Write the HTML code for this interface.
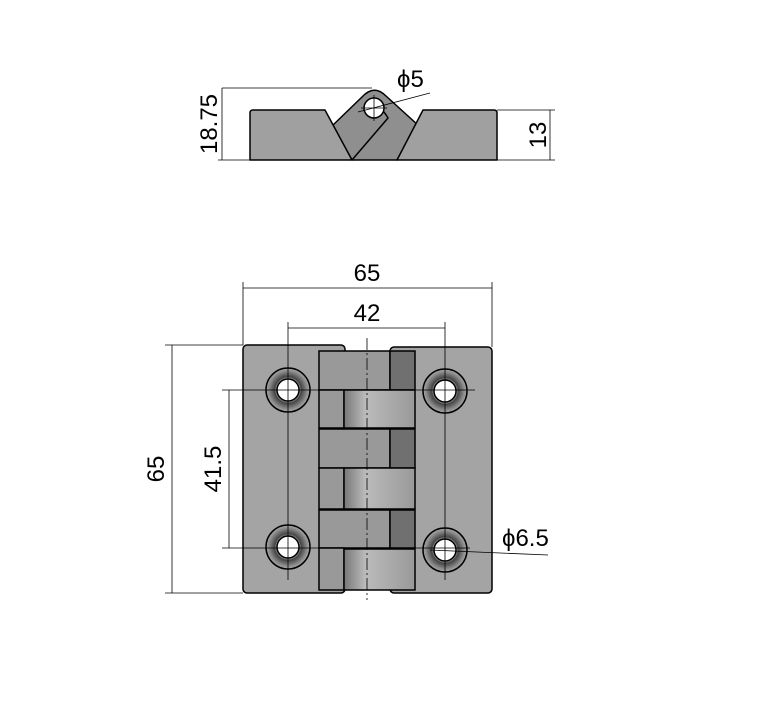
<!DOCTYPE html>
<html><head><style>body{margin:0;background:#fff}svg{display:block}</style></head><body>
<svg width="760" height="723" viewBox="0 0 760 723" xmlns="http://www.w3.org/2000/svg" font-family="Liberation Sans, sans-serif">
<defs>
<radialGradient id="cs" cx="0.5" cy="0.5" r="0.5"><stop offset="0.45" stop-color="#eee"/><stop offset="0.6" stop-color="#444"/><stop offset="0.85" stop-color="#888"/><stop offset="1" stop-color="#aaa"/></radialGradient>
<linearGradient id="pin" x1="0" x2="1"><stop offset="0" stop-color="#777"/><stop offset="0.3" stop-color="#bbb"/><stop offset="1" stop-color="#999"/></linearGradient>
</defs>
<!-- Top view -->
<g stroke="#000" stroke-width="1.5" stroke-linejoin="round">
<path d="M332 126 L362 97 Q374 84 386 96 L419 126 L397 160 L352 160 Z" fill="#8f8f8f"/>
<path d="M250 113 Q250 110 253 110 L325 110 L352 160 L250 160 Z" fill="#a0a0a0"/>
<path d="M423 110 L494 110 Q497 110 497 113 L497 160 L397 160 Z" fill="#a0a0a0"/>
<path d="M352 160 L388 118 Q378 100 366 112" fill="none"/>
<circle cx="374" cy="108" r="10" fill="#fff"/>
</g>
<g stroke="#000" stroke-width="0.8" fill="none">
<line x1="222" y1="88" x2="372" y2="88"/><line x1="222" y1="88" x2="222" y2="160"/><line x1="218" y1="160" x2="250" y2="160"/>
<line x1="497" y1="110" x2="555" y2="110"/><line x1="497" y1="160" x2="555" y2="160"/><line x1="550" y1="110" x2="550" y2="160"/>
<line x1="358" y1="112" x2="430" y2="93"/><line x1="374" y1="95" x2="374" y2="121"/><line x1="361" y1="108" x2="387" y2="108"/>
</g>
<text x="217" y="124" font-size="24" transform="rotate(-90 217 124)" text-anchor="middle">18.75</text>
<text x="546" y="135" font-size="24" transform="rotate(-90 546 135)" text-anchor="middle">13</text>
<text x="397" y="87" font-size="24">ϕ5</text>
<!-- Front view -->
<g stroke="#000" stroke-width="1.5">
<rect x="243" y="345" width="102" height="248" rx="4" fill="#a4a4a4"/>
<rect x="390" y="347" width="102" height="246" rx="4" fill="#a4a4a4"/>
<rect x="319" y="351" width="71" height="39" fill="#999"/><rect x="390" y="351" width="25" height="39" fill="#707070"/>
<rect x="319" y="390" width="25" height="38" fill="#999"/><rect x="344" y="390" width="71" height="38" fill="url(#pin)"/>
<rect x="319" y="429" width="71" height="39" fill="#999"/><rect x="390" y="429" width="25" height="39" fill="#707070"/>
<rect x="319" y="468" width="25" height="41" fill="#999"/><rect x="344" y="468" width="71" height="41" fill="url(#pin)"/>
<rect x="319" y="510" width="71" height="38" fill="#999"/><rect x="390" y="510" width="25" height="38" fill="#707070"/>
<rect x="319" y="548" width="25" height="42" fill="#999"/><rect x="344" y="549" width="71" height="41" fill="url(#pin)"/>
<circle cx="288" cy="390" r="22" fill="url(#cs)"/><circle cx="288" cy="390" r="11" fill="#fff"/>
<circle cx="445" cy="391" r="22" fill="url(#cs)"/><circle cx="445" cy="391" r="11" fill="#fff"/>
<circle cx="288" cy="547" r="22" fill="url(#cs)"/><circle cx="288" cy="547" r="11" fill="#fff"/>
<circle cx="445" cy="550" r="22" fill="url(#cs)"/><circle cx="445" cy="550" r="11" fill="#fff"/>
</g>
<g stroke="#000" stroke-width="0.8" fill="none">
<line x1="243" y1="282" x2="243" y2="345"/><line x1="492" y1="282" x2="492" y2="347"/><line x1="243" y1="288" x2="492" y2="288"/>
<line x1="288" y1="322" x2="288" y2="580"/><line x1="445" y1="322" x2="445" y2="580"/><line x1="288" y1="328" x2="445" y2="328"/>
<line x1="165" y1="345" x2="243" y2="345"/><line x1="165" y1="593" x2="243" y2="593"/><line x1="172" y1="345" x2="172" y2="593"/>
<line x1="222" y1="390" x2="475" y2="390"/><line x1="222" y1="548" x2="470" y2="548"/><line x1="229" y1="390" x2="229" y2="548"/>
<line x1="430" y1="550" x2="548" y2="555"/>
<line x1="367" y1="338" x2="367" y2="600" stroke-dasharray="12 3 2 3"/>
</g>
<text x="367" y="281" font-size="24" text-anchor="middle">65</text>
<text x="367" y="321" font-size="24" text-anchor="middle">42</text>
<text x="164" y="469" font-size="24" transform="rotate(-90 164 469)" text-anchor="middle">65</text>
<text x="221" y="469" font-size="24" transform="rotate(-90 221 469)" text-anchor="middle">41.5</text>
<text x="502" y="546" font-size="24">ϕ6.5</text>
</svg>
</body></html>
